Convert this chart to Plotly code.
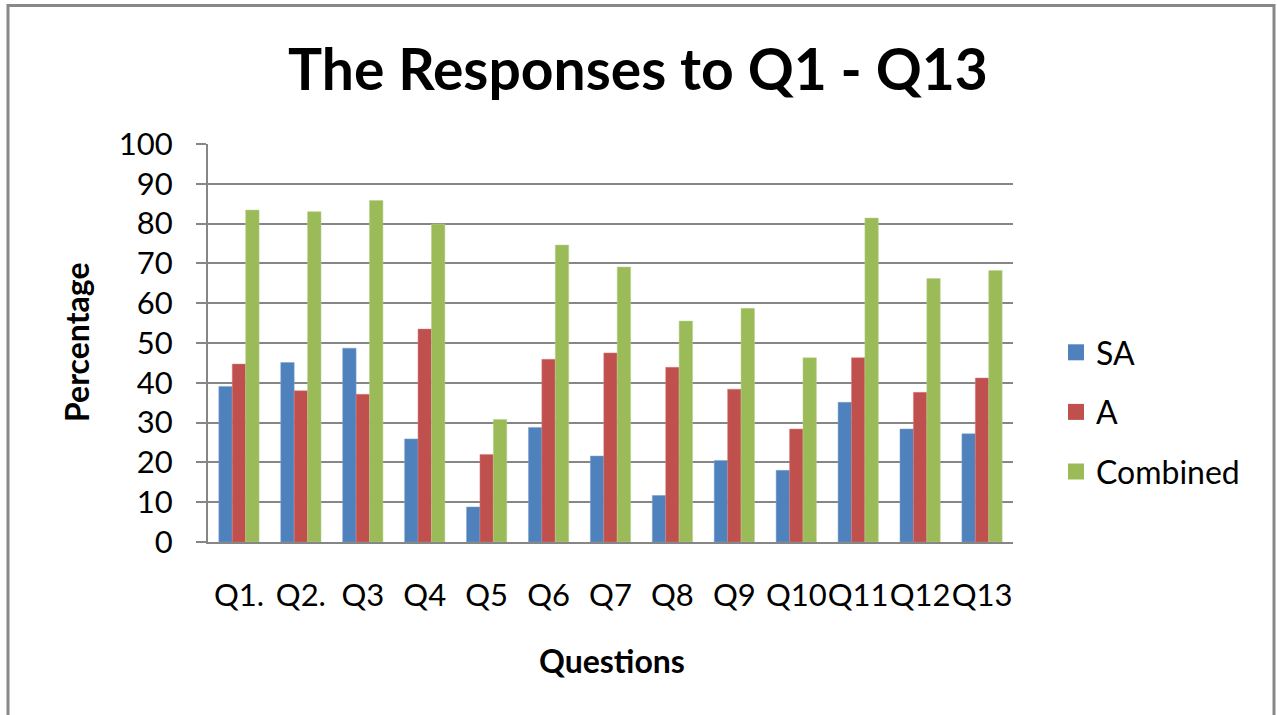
import plotly.graph_objects as go

categories = ["Q1.", "Q2.", "Q3", "Q4", "Q5", "Q6", "Q7", "Q8", "Q9", "Q10", "Q11", "Q12", "Q13"]
sa = [39.1, 45.1, 48.7, 25.9, 8.8, 28.8, 21.6, 11.7, 20.5, 18.0, 35.1, 28.4, 27.2]
a = [44.7, 38.0, 37.1, 53.5, 22.0, 45.9, 47.5, 43.9, 38.4, 28.4, 46.3, 37.6, 41.2]
combined = [83.4, 83.0, 85.8, 79.9, 30.8, 74.6, 69.1, 55.5, 58.7, 46.3, 81.4, 66.2, 68.2]

series_names = ["SA", "A", "Combined"]
colors = ["#4F81BD", "#C0504D", "#9BBB59"]
border_colors = ["#7EA3D1", "#D47F7D", "#B7D08A"]

FONT = "Lato"
W, H = 1277, 715
# plot area in screen pixels
L, R, T, B = 208, 1013, 144, 542

fig = go.Figure()
for name, vals, c, bc in zip(series_names, [sa, a, combined], colors, border_colors):
    fig.add_trace(go.Bar(x=categories, y=vals, name=name, showlegend=False,
                         marker=dict(color=c, line=dict(color=bc, width=0.5))))
for name, c in zip(series_names, colors):
    fig.add_trace(go.Scatter(x=[None], y=[None], mode="markers", name=name, legendgroup=name,
                             marker=dict(symbol="square", size=19, color=c)))

def px_x(px):
    return (px - L) / (R - L)

def px_y(py):
    return (B - py) / (B - T)

fig.update_layout(
    width=W, height=H,
    margin=dict(l=L, r=W - R, t=T, b=H - B, pad=0),
    paper_bgcolor="white", plot_bgcolor="white",
    barmode="group", bargap=0.35, bargroupgap=0,
    font=dict(family=FONT, color="black"),
    title=dict(text="<b>The Responses to Q1 - Q13</b>", x=638 / W, xanchor="center",
               y=1 - 70 / H, yanchor="middle", font=dict(size=57, family=FONT, color="black")),
    legend=dict(x=px_x(1056), y=px_y(325), xanchor="left", yanchor="top",
                font=dict(size=32, family=FONT, color="black"),
                itemwidth=30, tracegroupgap=15, bgcolor="rgba(0,0,0,0)"),
    showlegend=True,
)
fig.update_xaxes(
    showline=True, linecolor="#868686", linewidth=2, ticks="", showgrid=False,
    tickangle=0,
    tickfont=dict(size=31, family=FONT, color="black"), ticklabelstandoff=25,
)
fig.update_yaxes(
    range=[0, 100], dtick=10, showgrid=True, gridcolor="#868686", gridwidth=1.5,
    showline=True, linecolor="#868686", linewidth=2, ticks="outside", ticklen=10,
    tickcolor="#868686", tickwidth=1.5, zeroline=False,
    tickfont=dict(size=31, family=FONT, color="black"), ticklabelstandoff=17,
)
fig.add_annotation(text="<b>Percentage</b>", x=px_x(76), y=px_y(342), xref="paper", yref="paper",
                   textangle=-90, showarrow=False, font=dict(size=32, family=FONT, color="black"),
                   xanchor="center", yanchor="middle")
fig.add_annotation(text="<b>Questions</b>", x=px_x(612), y=px_y(660), xref="paper", yref="paper",
                   showarrow=False, font=dict(size=32, family=FONT, color="black"),
                   xanchor="center", yanchor="middle")
fig.add_shape(type="rect", xref="paper", yref="paper",
              x0=px_x(8), x1=px_x(1274), y0=px_y(760), y1=px_y(5.5),
              line=dict(color="#888888", width=3), fillcolor="rgba(0,0,0,0)", layer="below")

fig.write_html("out.html", config={"displayModeBar": False},
               post_script="document.body.style.margin='0';")
